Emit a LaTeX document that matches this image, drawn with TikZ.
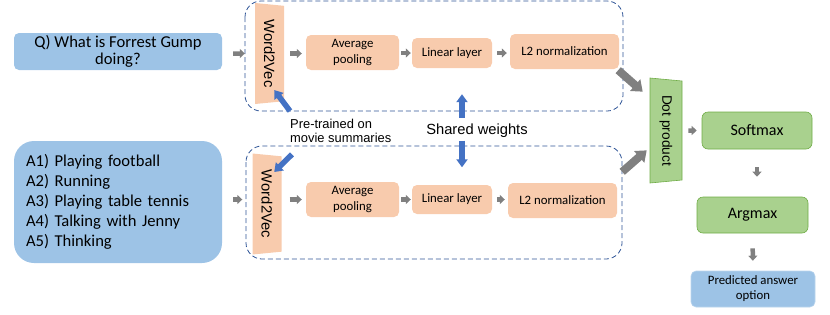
\documentclass[tikz,border=0pt]{standalone}
\usepackage{fontspec}
\setmainfont{Carlito}
\newfontfamily\arialfont{Liberation Sans}
\usetikzlibrary{arrows.meta, calc, shapes.geometric}
\definecolor{boxblue}{HTML}{9DC3E6}
\definecolor{boxorange}{HTML}{F8CBAD}
\definecolor{boxgreen}{HTML}{A9D18E}
\definecolor{edgegreen}{HTML}{70AD47}
\definecolor{arrowblue}{HTML}{4472C4}
\definecolor{arrowgray}{HTML}{808080}
\definecolor{dashblue}{HTML}{2F5597}

\tikzset{
  inputbox/.style={fill=boxblue, rounded corners=5pt, inner sep=0pt},
  layerbox/.style={fill=boxorange, rounded corners=5pt, minimum height=35pt, inner sep=0pt,
    align=center, font=\fontsize{12.8}{16}\selectfont},
  outbox/.style={fill=boxgreen, draw=edgegreen, line width=0.6pt, rounded corners=6pt,
    minimum height=36pt, inner sep=0pt, font=\fontsize{16}{19}\selectfont},
  embed/.style={trapezium, trapezium angle=75.5, trapezium stretches body, fill=boxorange,
    rotate=-90, minimum width=101pt, minimum height=29pt, inner sep=0pt,
    font=\arialfont\fontsize{14.8}{17}\selectfont},
  grayarrow/.style={arrowgray, line width=4.5pt, -{Triangle[length=5pt,width=9pt]}},
  bigarrow/.style={arrowgray, line width=8pt, -{Triangle[length=10pt,width=15pt]}},
  bluearrow/.style={arrowblue, line width=5.5pt, -{Triangle[length=8pt,width=11pt]}},
  branch/.style={dashblue, line width=0.8pt, dash pattern=on 5pt off 3pt, rounded corners=16pt},
}

\begin{document}
\begin{tikzpicture}[x=1pt, y=-1pt]
    \useasboundingbox (0,0) rectangle (830,314);

    % the two branches
    \draw[branch] (245,1) rectangle (623,111);
    \draw[branch] (246,146) rectangle (622,259);

    % inputs
    \node[inputbox, minimum width=208pt, minimum height=37pt, align=center,
      font=\fontsize{16.6}{17}\selectfont] (q) at (118,51.5) {Q) What is Forrest Gump\\doing?};
    \node[inputbox, rounded corners=20pt, text width=184pt, inner xsep=12pt, minimum height=122pt,
      align=left, font=\fontsize{16.6}{20}\selectfont] (ans) at (118,202)
      {A1) Playing football\\A2) Running\\A3) Playing table tennis\\A4) Talking with Jenny\\A5) Thinking};

    % question branch
    \node[embed] (w2vq) at (269.5,53.5) {Word2Vec};
    \node[layerbox, minimum width=93pt] (poolq) at (352.5,52.5) {Average\\pooling};
    \node[layerbox, minimum width=80pt, minimum height=30pt] (linq) at (452,53) {Linear layer};
    \node[layerbox, minimum width=109pt] (l2q) at (564.5,51.5) {L2 normalization};

    % answer branch
    \node[embed] (w2va) at (267,204) {Word2Vec};
    \node[layerbox, minimum width=93pt] (poola) at (352.5,199.5) {Average\\pooling};
    \node[layerbox, minimum width=80pt, minimum height=29pt] (lina) at (452,199.5) {Linear layer};
    \node[layerbox, minimum width=109pt] (l2a) at (562.5,200.5) {L2 normalization};

    % scoring
    \node[embed, fill=boxgreen, draw=edgegreen, line width=0.6pt, trapezium angle=76.8,
      minimum width=105pt, minimum height=32pt, font=\arialfont\fontsize{13.7}{16}\selectfont]
      (dot) at (666,130.5) {Dot product};
    \node[outbox, minimum width=110pt, minimum height=37pt] (softmax) at (757,130.5) {Softmax};
    \node[outbox, minimum width=111pt] (argmax) at (752.5,215) {Argmax};
    \node[inputbox, draw=boxblue!70!white, line width=0.6pt, minimum width=124pt, minimum height=36pt,
      align=center, font=\fontsize{12.8}{15}\selectfont] (pred) at (753,289) {Predicted answer\\option};

    % labels
    \node[anchor=north west, inner sep=0pt, align=left, font=\arialfont\fontsize{12.9}{14}\selectfont]
      (pretrain) at (290,118.5) {Pre-trained on\\movie summaries};
    \node[inner sep=0pt, font=\arialfont\fontsize{14.7}{17}\selectfont] (shared) at (477,131) {Shared weights};

    % gray arrows
    \draw[grayarrow, shorten <=11pt, shorten >=10pt] (q.east |- w2vq) -- (w2vq.south);
    \draw[grayarrow, shorten <=6pt, shorten >=4pt] (w2vq.north) -- (poolq.west |- w2vq.north);
    \draw[grayarrow, shorten <=2pt, shorten >=1pt] (poolq.east |- linq) -- (linq.west);
    \draw[grayarrow, shorten <=5pt, shorten >=3pt] (linq.east) -- (linq.east -| l2q.west);
    \draw[grayarrow, shorten <=11pt, shorten >=10pt] (ans.east |- poola) -- (w2va.south |- poola);
    \draw[grayarrow, shorten <=8pt, shorten >=4pt] (w2va.north |- poola) -- (poola.west);
    \draw[grayarrow, shorten <=2pt, shorten >=1pt] (poola.east |- lina) -- (lina.west);
    \draw[grayarrow, shorten <=5pt, shorten >=3pt] (lina.east) -- (lina.east -| l2a.west);
    \draw[bigarrow] ($(l2q.south east)+(-1,1)$) -- ($(dot.bottom left corner)+(-7,14)$);
    \draw[bigarrow] ($(l2a.north east)+(5,-11)$) -- ($(dot.bottom right corner)+(-3,-33)$);
    \draw[grayarrow, shorten <=6pt, shorten >=5pt] (dot.north) -- (softmax.west);
    \draw[grayarrow, shorten <=18pt, shorten >=20pt] (softmax.south) -- (softmax.south |- argmax.north);
    \draw[grayarrow, shorten <=15pt, shorten >=10pt] (argmax.south) -- (pred.north);

    % blue arrows
    \draw[bluearrow] ($(pretrain.north west)+(0,-7.5)$) -- ($(w2vq.north)+(-10,36.5)$);
    \draw[bluearrow] ($(pretrain.south west)+(2,12)$) -- ($(w2va.north)+(-7.5,-32)$);
    \draw[bluearrow] ($(shared.north)+(-15,-6)$) -- ($(linq.south)+(10,26)$);
    \draw[bluearrow] ($(shared.south)+(-15,2.5)$) -- ($(lina.north)+(10,-17.5)$);
\end{tikzpicture}
\end{document}
